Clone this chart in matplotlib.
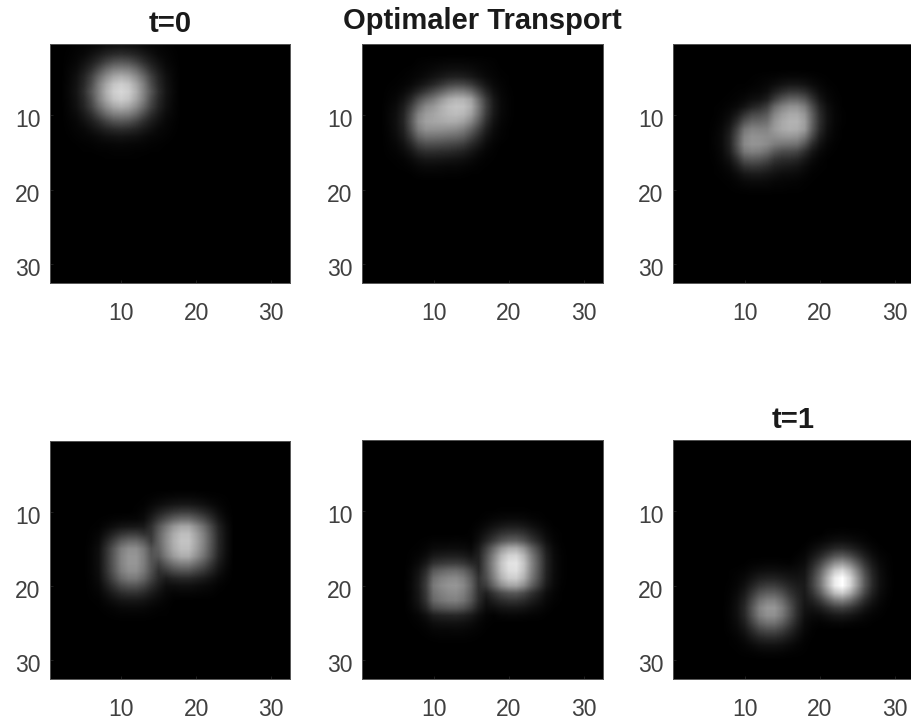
import numpy as np
import matplotlib
matplotlib.use('Agg')
import matplotlib.pyplot as plt
from matplotlib.transforms import ScaledTranslation

# grey values 0-255, (first row, first col, rows)
panel1_start = (1, 3)
panel1 = [
    [1, 3, 5, 7, 11, 16, 18, 20, 18, 16, 11, 7, 5, 3, 1],
    [2, 5, 8, 16, 25, 35, 42, 45, 42, 35, 25, 16, 8, 5, 2],
    [3, 7, 16, 28, 45, 65, 80, 85, 80, 65, 45, 28, 16, 7, 3],
    [5, 11, 25, 45, 75, 105, 125, 130, 125, 105, 75, 45, 25, 11, 5],
    [6, 16, 35, 65, 105, 140, 165, 175, 165, 140, 105, 65, 35, 16, 6],
    [7, 18, 40, 75, 125, 165, 195, 205, 195, 165, 125, 75, 40, 18, 7],
    [8, 20, 45, 85, 130, 175, 205, 215, 205, 175, 130, 85, 45, 20, 8],
    [7, 18, 40, 75, 125, 165, 195, 205, 195, 165, 125, 75, 40, 18, 7],
    [6, 16, 35, 65, 105, 140, 165, 175, 165, 140, 105, 65, 35, 16, 6],
    [5, 11, 25, 45, 75, 105, 125, 130, 125, 105, 75, 45, 25, 11, 5],
    [3, 7, 16, 28, 45, 65, 80, 85, 80, 65, 45, 28, 16, 7, 3],
    [2, 5, 8, 16, 25, 35, 42, 45, 42, 35, 25, 16, 8, 5, 2],
    [1, 3, 5, 7, 11, 16, 18, 20, 18, 16, 11, 7, 5, 3, 1],
    [0, 1, 2, 3, 5, 6, 7, 8, 7, 6, 5, 3, 2, 1, 0],
    [0, 0, 1, 1, 2, 2, 3, 3, 3, 2, 2, 1, 1, 0, 0],
    [0, 0, 0, 0, 0, 1, 1, 1, 1, 1, 0, 0, 0, 0, 0],
]

panel2_start = (3, 4)
panel2 = [
    [0, 0, 0, 0, 2, 3, 4, 5, 6, 6, 6, 5, 4, 3, 2, 0, 0],
    [0, 0, 1, 2, 4, 6, 9, 12, 14, 15, 14, 12, 8, 5, 3, 1, 0],
    [0, 1, 2, 4, 7, 12, 18, 24, 30, 32, 30, 24, 16, 9, 5, 2, 1],
    [1, 2, 4, 8, 16, 26, 38, 52, 66, 72, 70, 58, 38, 20, 9, 4, 1],
    [2, 4, 9, 20, 38, 58, 78, 98, 118, 128, 126, 108, 72, 38, 16, 6, 2],
    [3, 7, 18, 40, 75, 102, 122, 148, 170, 180, 178, 160, 108, 58, 24, 8, 3],
    [5, 11, 28, 62, 105, 138, 152, 172, 188, 195, 192, 172, 120, 64, 26, 9, 3],
    [6, 14, 34, 78, 130, 155, 164, 175, 184, 188, 182, 160, 112, 58, 24, 8, 3],
    [6, 15, 36, 84, 138, 160, 165, 168, 172, 170, 160, 134, 92, 46, 18, 6, 2],
    [5, 14, 32, 76, 125, 145, 146, 145, 142, 138, 126, 100, 66, 32, 12, 4, 1],
    [4, 11, 26, 58, 98, 114, 114, 112, 108, 104, 94, 70, 44, 20, 8, 3, 1],
    [3, 7, 17, 38, 66, 78, 78, 76, 72, 68, 60, 42, 26, 11, 4, 1, 0],
    [2, 4, 10, 21, 38, 46, 46, 44, 42, 38, 32, 22, 12, 5, 2, 0, 0],
    [1, 2, 4, 10, 18, 23, 23, 22, 20, 18, 15, 10, 5, 2, 1, 0, 0],
    [0, 1, 2, 4, 8, 10, 10, 9, 8, 8, 6, 4, 2, 1, 0, 0, 0],
    [0, 0, 0, 1, 3, 4, 4, 4, 3, 3, 2, 1, 1, 0, 0, 0, 0],
]

panel3_start = (5, 6)
panel3 = [
    [0, 0, 0, 0, 0, 1, 2, 3, 4, 6, 7, 7, 6, 4, 2, 1, 0, 0],
    [0, 0, 0, 1, 1, 2, 4, 7, 12, 18, 22, 22, 18, 11, 6, 2, 1, 0],
    [0, 0, 1, 2, 3, 6, 8, 14, 30, 44, 55, 55, 46, 28, 12, 5, 2, 0],
    [0, 1, 2, 4, 8, 14, 18, 30, 60, 85, 100, 100, 85, 52, 22, 8, 3, 1],
    [1, 2, 5, 10, 20, 34, 44, 62, 105, 130, 145, 145, 125, 78, 36, 14, 5, 1],
    [1, 4, 10, 24, 50, 70, 76, 90, 132, 155, 168, 168, 148, 94, 44, 17, 6, 2],
    [2, 6, 17, 44, 82, 102, 104, 112, 148, 168, 178, 178, 158, 98, 46, 18, 6, 2],
    [3, 9, 26, 66, 116, 132, 130, 132, 154, 168, 175, 172, 154, 92, 42, 15, 5, 1],
    [4, 11, 32, 78, 132, 146, 144, 140, 142, 148, 150, 146, 122, 72, 30, 11, 4, 1],
    [4, 11, 32, 82, 136, 148, 146, 138, 124, 118, 116, 112, 84, 44, 18, 6, 2, 0],
    [3, 9, 28, 70, 118, 128, 124, 110, 88, 76, 74, 68, 46, 22, 9, 3, 1, 0],
    [2, 7, 18, 46, 82, 90, 86, 74, 54, 46, 44, 38, 24, 11, 4, 1, 0, 0],
    [1, 4, 10, 26, 48, 54, 52, 44, 32, 27, 24, 20, 12, 5, 2, 1, 0, 0],
    [1, 2, 5, 12, 22, 26, 26, 22, 17, 13, 12, 10, 6, 2, 1, 0, 0, 0],
    [0, 1, 2, 5, 9, 11, 11, 10, 7, 6, 5, 4, 2, 1, 0, 0, 0, 0],
    [0, 0, 1, 2, 3, 4, 4, 4, 3, 3, 2, 2, 1, 0, 0, 0, 0, 0],
]

panel4_start = (8, 6)
panel4 = [
    [0, 0, 0, 0, 0, 0, 0, 1, 2, 4, 6, 7, 8, 8, 7, 5, 3, 2, 1],
    [0, 0, 0, 0, 0, 0, 1, 2, 7, 12, 17, 21, 23, 23, 20, 16, 10, 5, 2],
    [0, 0, 0, 0, 0, 0, 2, 6, 16, 30, 42, 52, 58, 58, 50, 39, 26, 12, 4],
    [0, 1, 2, 4, 5, 6, 6, 11, 30, 55, 77, 96, 107, 107, 91, 72, 47, 22, 8],
    [1, 2, 8, 14, 20, 22, 23, 25, 47, 85, 119, 149, 166, 166, 140, 110, 72, 34, 13],
    [2, 6, 20, 36, 52, 60, 60, 50, 53, 97, 136, 170, 189, 189, 160, 126, 82, 39, 15],
    [3, 10, 35, 63, 91, 105, 105, 88, 60, 100, 140, 175, 195, 195, 165, 130, 85, 40, 15],
    [5, 14, 48, 86, 124, 142, 142, 119, 81, 97, 136, 170, 189, 189, 160, 126, 82, 39, 15],
    [5, 15, 50, 90, 130, 150, 150, 125, 85, 88, 123, 154, 172, 172, 145, 114, 75, 35, 13],
    [5, 15, 50, 90, 130, 150, 150, 125, 85, 65, 91, 114, 127, 127, 107, 85, 55, 26, 10],
    [5, 14, 48, 86, 124, 142, 142, 119, 81, 48, 59, 74, 82, 82, 69, 55, 36, 17, 6],
    [4, 12, 40, 72, 104, 120, 120, 100, 68, 40, 28, 35, 39, 39, 33, 26, 17, 8, 3],
    [3, 8, 28, 50, 72, 82, 82, 69, 47, 28, 14, 14, 16, 16, 13, 10, 7, 3, 1],
    [2, 5, 16, 29, 42, 48, 48, 40, 27, 16, 8, 5, 6, 6, 5, 4, 3, 1, 0],
    [1, 2, 8, 14, 20, 22, 22, 19, 13, 8, 4, 1, 0, 0, 0, 0, 0, 0, 0],
    [0, 1, 3, 5, 8, 9, 9, 8, 5, 3, 2, 0, 0, 0, 0, 0, 0, 0, 0],
    [0, 0, 1, 2, 3, 3, 3, 3, 2, 1, 1, 0, 0, 0, 0, 0, 0, 0, 0],
]

panel5_start = (10, 7)
panel5 = [
    [0, 0, 0, 0, 0, 0, 0, 0, 0, 0, 1, 1, 2, 2, 2, 2, 1, 1, 0, 0, 0],
    [0, 0, 0, 0, 0, 0, 0, 0, 0, 1, 3, 6, 8, 9, 9, 8, 5, 3, 1, 0, 0],
    [0, 0, 0, 0, 0, 0, 0, 0, 1, 4, 10, 17, 23, 27, 27, 23, 16, 10, 4, 1, 0],
    [0, 0, 0, 0, 0, 0, 0, 0, 2, 9, 21, 35, 49, 56, 57, 49, 34, 21, 9, 3, 1],
    [0, 1, 2, 4, 4, 4, 5, 4, 3, 15, 36, 59, 82, 95, 96, 82, 57, 36, 15, 5, 1],
    [1, 2, 5, 10, 11, 12, 12, 11, 8, 26, 64, 105, 146, 169, 171, 146, 101, 64, 26, 9, 2],
    [2, 5, 12, 24, 28, 30, 30, 27, 20, 33, 79, 130, 181, 209, 212, 181, 126, 79, 33, 11, 3],
    [3, 10, 24, 48, 55, 59, 60, 54, 40, 35, 85, 140, 195, 225, 228, 195, 135, 85, 35, 12, 3],
    [6, 18, 43, 86, 99, 107, 108, 97, 72, 40, 83, 137, 191, 220, 223, 191, 132, 83, 34, 12, 3],
    [7, 23, 55, 110, 127, 136, 138, 124, 92, 50, 77, 126, 176, 203, 205, 176, 122, 77, 32, 11, 3],
    [8, 25, 60, 120, 138, 148, 150, 135, 100, 50, 61, 101, 140, 162, 164, 140, 97, 61, 25, 9, 2],
    [7, 23, 56, 112, 128, 138, 140, 126, 93, 47, 32, 53, 74, 86, 87, 74, 51, 32, 13, 5, 1],
    [7, 21, 51, 102, 117, 126, 128, 115, 85, 43, 19, 31, 43, 50, 50, 43, 30, 19, 8, 3, 1],
    [5, 15, 36, 72, 83, 89, 90, 81, 60, 30, 12, 14, 20, 23, 23, 20, 14, 9, 4, 1, 0],
    [2, 6, 15, 30, 35, 37, 38, 34, 25, 13, 5, 2, 6, 7, 7, 6, 4, 3, 1, 0, 0],
    [1, 3, 7, 14, 17, 18, 18, 16, 12, 6, 2, 1, 0, 0, 0, 0, 0, 0, 0, 0, 0],
    [0, 1, 3, 6, 7, 7, 8, 7, 5, 3, 1, 0, 0, 0, 0, 0, 0, 0, 0, 0, 0],
    [0, 0, 1, 2, 3, 3, 3, 3, 2, 1, 0, 0, 0, 0, 0, 0, 0, 0, 0, 0, 0],
]

panel6_start = (13, 8)
panel6 = [
    [0, 0, 0, 0, 0, 0, 0, 0, 0, 0, 0, 0, 0, 3, 4, 5, 4, 3, 2, 0, 0, 0],
    [0, 0, 0, 0, 0, 0, 0, 0, 0, 0, 0, 3, 6, 10, 14, 15, 13, 9, 5, 2, 0, 0],
    [0, 0, 0, 0, 0, 0, 0, 0, 0, 0, 3, 10, 18, 28, 38, 41, 34, 24, 14, 6, 2, 0],
    [0, 0, 0, 0, 0, 0, 0, 0, 0, 3, 7, 21, 38, 61, 82, 89, 75, 52, 30, 14, 5, 2],
    [0, 0, 1, 3, 4, 5, 5, 4, 3, 7, 12, 36, 66, 105, 141, 153, 129, 90, 51, 24, 9, 3],
    [1, 2, 4, 9, 13, 15, 15, 13, 12, 13, 19, 51, 94, 149, 200, 217, 183, 128, 72, 34, 13, 4],
    [1, 4, 9, 19, 29, 33, 33, 28, 22, 20, 23, 61, 110, 175, 235, 255, 215, 150, 85, 40, 15, 5],
    [2, 6, 16, 34, 52, 60, 60, 50, 37, 28, 26, 62, 110, 175, 235, 255, 215, 150, 85, 40, 15, 5],
    [3, 10, 25, 53, 81, 93, 93, 78, 53, 36, 25, 50, 88, 140, 188, 204, 172, 120, 68, 32, 12, 4],
    [4, 14, 34, 72, 110, 128, 128, 106, 72, 43, 23, 33, 55, 88, 118, 128, 108, 75, 42, 20, 8, 2],
    [5, 16, 40, 85, 130, 150, 150, 125, 85, 45, 20, 19, 28, 44, 59, 64, 54, 38, 21, 10, 4, 1],
    [5, 15, 38, 81, 124, 143, 143, 119, 81, 43, 16, 10, 11, 18, 24, 26, 22, 15, 8, 4, 2, 0],
    [4, 12, 30, 64, 98, 113, 113, 94, 64, 34, 11, 5, 3, 5, 7, 8, 6, 4, 3, 1, 0, 0],
    [3, 8, 20, 42, 65, 75, 75, 62, 42, 22, 8, 2, 0, 0, 0, 0, 0, 0, 0, 0, 0, 0],
    [1, 4, 11, 24, 36, 42, 42, 35, 24, 13, 4, 1, 0, 0, 0, 0, 0, 0, 0, 0, 0, 0],
    [1, 2, 5, 10, 16, 18, 18, 15, 10, 5, 2, 0, 0, 0, 0, 0, 0, 0, 0, 0, 0, 0],
    [0, 1, 2, 3, 5, 6, 6, 5, 3, 2, 1, 0, 0, 0, 0, 0, 0, 0, 0, 0, 0, 0],
]

panels = [(panel1_start, panel1), (panel2_start, panel2), (panel3_start, panel3),
          (panel4_start, panel4), (panel5_start, panel5), (panel6_start, panel6)]
titles = ['t=0', 'Optimaler Transport', '', '', '', 't=1']
title_pads = [8.6, 10.8, 0, 0, 0, 8.6]
ticks = [10, 20, 30]
grid_size = 32

W, H = 911, 722
# axes boxes in pixels: left, top, right, bottom
boxes = [(50, 44, 290, 283), (362, 44, 603, 283), (673, 44, 914, 283),
         (50, 441, 290, 679), (362, 440, 603, 679), (673, 440, 914, 679)]

plt.rcParams['font.family'] = ['Liberation Sans', 'DejaVu Sans']
fig = plt.figure(figsize=(W / 100, H / 100), dpi=100)
label_shift = ScaledTranslation(0, -3 / 100, fig.dpi_scale_trans)

for (start, rows), title, pad, box in zip(panels, titles, title_pads, boxes):
    image = np.zeros((grid_size, grid_size))
    for i, row in enumerate(rows):
        image[start[0] - 1 + i, start[1] - 1:start[1] - 1 + len(row)] = row

    left, top, right, bottom = box
    ax = fig.add_axes([left / W, 1 - bottom / H, (right - left) / W, (bottom - top) / H])
    ax.imshow(image, cmap='gray', vmin=0, vmax=255, aspect='auto',
              interpolation='bilinear',
              extent=(0.5, grid_size + 0.5, grid_size + 0.5, 0.5))
    ax.set_xticks(ticks)
    ax.set_yticks(ticks)
    ax.tick_params(direction='in', length=2.4, width=0.6, color='#262626',
                   labelcolor='#404040', labelsize=16.5)
    ax.tick_params(axis='x', pad=14)
    ax.tick_params(axis='y', pad=7)
    for label in ax.get_yticklabels():
        label.set_transform(label.get_transform() + label_shift)
    for spine in ax.spines.values():
        spine.set_color('#555555')
        spine.set_linewidth(0.7)
    if title:
        ax.set_title(title, fontsize=21, fontweight='bold', color='#1a1a1a', pad=pad)

fig.savefig('out.png', dpi=100)
